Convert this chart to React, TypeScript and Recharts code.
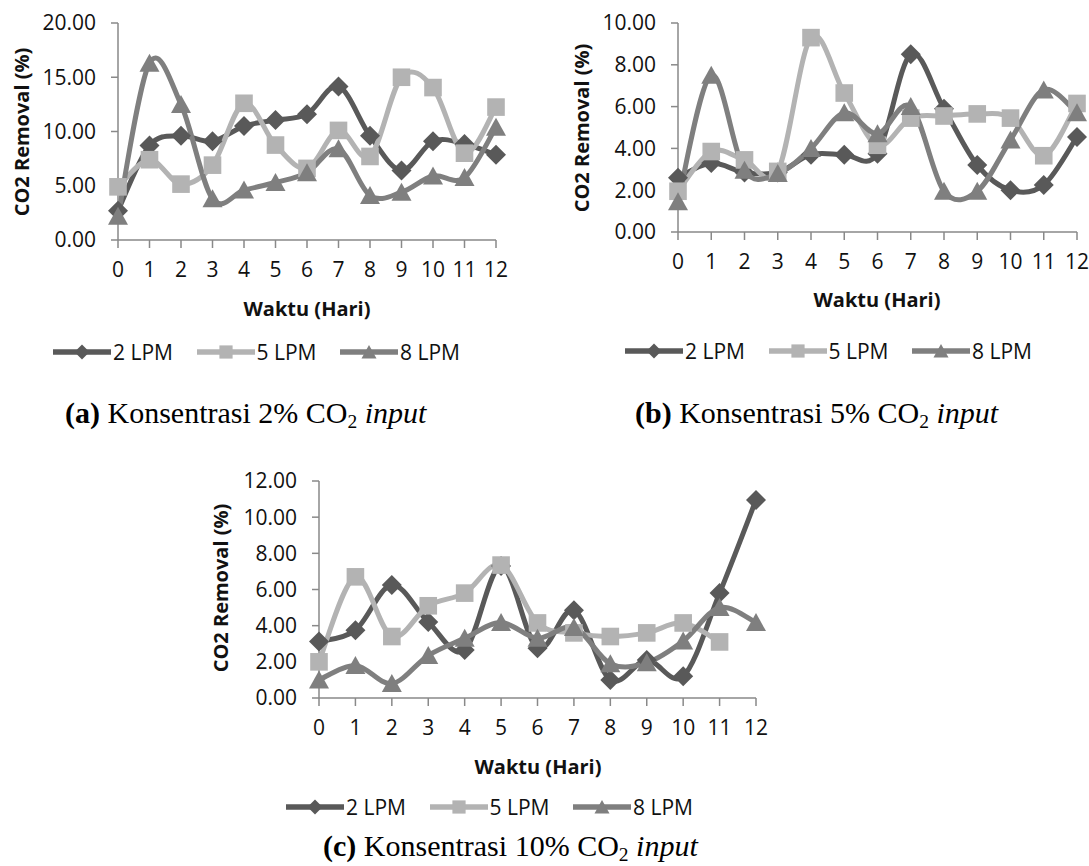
import React from 'react';
import { LineChart, Line, XAxis, YAxis } from 'recharts';

const days = ['0', '1', '2', '3', '4', '5', '6', '7', '8', '9', '10', '11', '12'];
const seriesNames = ['2 LPM', '5 LPM', '8 LPM'];

// (a) Konsentrasi 2% CO2 input
const a2Lpm = [2.7, 8.7, 9.6, 9.1, 10.5, 11.05, 11.6, 14.15, 9.6, 6.4, 9.1, 8.85, 7.85];
const a5Lpm = [4.9, 7.4, 5.15, 6.9, 12.6, 8.75, 6.6, 10.1, 7.7, 15.0, 14.05, 8.0, 12.25];
const a8Lpm = [2.2, 16.3, 12.5, 3.8, 4.6, 5.3, 6.2, 8.4, 4.1, 4.4, 5.9, 5.75, 10.4];
const aTicks = [0, 5, 10, 15, 20];

// (b) Konsentrasi 5% CO2 input
const b2Lpm = [2.6, 3.3, 2.85, 2.85, 3.7, 3.7, 3.75, 8.5, 5.9, 3.2, 2.0, 2.25, 4.55];
const b5Lpm = [1.95, 3.85, 3.45, 2.9, 9.3, 6.65, 4.15, 5.45, 5.55, 5.65, 5.45, 3.65, 6.15];
const b8Lpm = [1.45, 7.5, 2.95, 2.8, 4.0, 5.7, 4.7, 6.0, 1.95, 1.95, 4.4, 6.8, 5.7];
const bTicks = [0, 2, 4, 6, 8, 10];

// (c) Konsentrasi 10% CO2 input
const c2Lpm = [3.12, 3.75, 6.25, 4.2, 2.65, 7.3, 2.75, 4.85, 1.0, 2.1, 1.2, 5.8, 10.95];
const c5Lpm = [2.0, 6.7, 3.4, 5.1, 5.8, 7.35, 4.15, 3.6, 3.4, 3.6, 4.15, 3.1, null];
const c8Lpm = [1.0, 1.8, 0.8, 2.35, 3.3, 4.17, 3.3, 3.9, 1.9, 1.95, 3.15, 5.0, 4.17];
const cTicks = [0, 2, 4, 6, 8, 10, 12];

const colors = ['#595959', '#b3b3b3', '#7f7f7f'];
const shapes = ['diamond', 'square', 'triangle'];
const axisGray = '#898989';
const chartFont = '"Open Sans", Lato, sans-serif';

const toRows = (s2: (number | null)[], s5: (number | null)[], s8: (number | null)[]) =>
  days.map((d, i) => ({ day: d, s2: s2[i], s5: s5[i], s8: s8[i] }));

// smoothing like Excel's "smoothed line" (Catmull-Rom through the points)
const excelSmooth = (context: any) => {
  let pts: number[][] = [];
  return {
    areaStart() {},
    areaEnd() {},
    lineStart() {
      pts = [];
    },
    point(x: number, y: number) {
      pts.push([+x, +y]);
    },
    lineEnd() {
      const n = pts.length;
      if (!n) return;
      context.moveTo(pts[0][0], pts[0][1]);
      for (let i = 0; i < n - 1; i++) {
        const p0 = pts[Math.max(i - 1, 0)];
        const p1 = pts[i];
        const p2 = pts[i + 1];
        const p3 = pts[Math.min(i + 2, n - 1)];
        context.bezierCurveTo(
          p1[0] + (p2[0] - p0[0]) / 6,
          p1[1] + (p2[1] - p0[1]) / 6,
          p2[0] - (p3[0] - p1[0]) / 6,
          p2[1] - (p3[1] - p1[1]) / 6,
          p2[0],
          p2[1]
        );
      }
    },
  };
};

const Marker = ({ shape, cx, cy, size, color }: any) => {
  const r = size / 2;
  if (shape === 'diamond')
    return <polygon points={`${cx},${cy - r} ${cx + r},${cy} ${cx},${cy + r} ${cx - r},${cy}`} fill={color} />;
  if (shape === 'square')
    return <rect x={cx - r * 0.88} y={cy - r * 0.88} width={size * 0.88} height={size * 0.88} fill={color} />;
  return (
    <polygon
      points={`${cx},${cy - r * 0.95} ${cx + r},${cy + r * 0.85} ${cx - r},${cy + r * 0.85}`}
      fill={color}
    />
  );
};

type PanelProps = {
  left: number;
  top: number;
  width: number;
  height: number;
  plot: { left: number; top: number; right: number; bottom: number };
  rows: any[];
  ticks: number[];
};

const Panel = ({ left, top, width, height, plot, rows, ticks }: PanelProps) => {
  const xAxisHeight = 40;
  const margin = {
    top: plot.top - top,
    right: left + width - plot.right,
    left: 0,
    bottom: top + height - plot.bottom - xAxisHeight,
  };
  const tickStyle = { fontFamily: chartFont, fontSize: 21, fill: '#111' };
  return (
    <div style={{ position: 'absolute', left, top }}>
      <LineChart width={width} height={height} data={rows} margin={margin}>
        <XAxis
          dataKey="day"
          interval={0}
          height={xAxisHeight}
          tick={tickStyle}
          tickSize={8}
          tickMargin={14}
          axisLine={{ stroke: axisGray, strokeWidth: 1.5 }}
          tickLine={{ stroke: axisGray, strokeWidth: 1.5 }}
        />
        <YAxis
          type="number"
          width={plot.left - left}
          domain={[0, ticks[ticks.length - 1]]}
          ticks={ticks}
          interval={0}
          tickFormatter={(v: number) => v.toFixed(2)}
          tick={tickStyle}
          tickSize={7}
          tickMargin={15}
          axisLine={{ stroke: axisGray, strokeWidth: 1.5 }}
          tickLine={{ stroke: axisGray, strokeWidth: 1.5 }}
        />
        {['s2', 's5', 's8'].map((key, si) => (
          <Line
            key={key}
            dataKey={key}
            name={seriesNames[si]}
            type={excelSmooth as any}
            stroke={colors[si]}
            strokeWidth={5}
            isAnimationActive={false}
            activeDot={false}
            dot={(p: any) =>
              p.cx == null || p.cy == null || p.value == null ? (
                <g key={`${key}-${p.index}`} />
              ) : (
                <Marker key={`${key}-${p.index}`} shape={shapes[si]} cx={p.cx} cy={p.cy} size={20} color={colors[si]} />
              )
            }
          />
        ))}
      </LineChart>
    </div>
  );
};

const AxisTitles = ({ vx, vy, hx, hy }: { vx: number; vy: number; hx: number; hy: number }) => {
  const base: React.CSSProperties = {
    position: 'absolute',
    fontFamily: chartFont,
    fontWeight: 700,
    fontSize: 20,
    lineHeight: '26px',
    color: '#111',
    whiteSpace: 'nowrap',
  };
  return (
    <>
      <div style={{ ...base, left: vx, top: vy, transform: 'translate(-50%, -50%) rotate(-90deg)' }}>
        CO2 Removal (%)
      </div>
      <div style={{ ...base, left: hx, top: hy, transform: 'translate(-50%, -50%)' }}>Waktu (Hari)</div>
    </>
  );
};

const LegendRow = ({ x, y }: { x: number; y: number }) => (
  <>
    {seriesNames.map((name, i) => (
      <div
        key={name}
        style={{
          position: 'absolute',
          left: x + i * 143.5,
          top: y - 13,
          height: 26,
          display: 'flex',
          alignItems: 'center',
          whiteSpace: 'nowrap',
          fontFamily: chartFont,
          fontSize: 21,
          lineHeight: '26px',
          color: '#111',
        }}
      >
        <svg width={58} height={24} style={{ display: 'block' }}>
          <line x1={1} y1={12} x2={57} y2={12} stroke={colors[i]} strokeWidth={5.5} strokeLinecap="round" />
          <Marker shape={shapes[i]} cx={29} cy={12} size={15} color={colors[i]} />
        </svg>
        <span style={{ marginLeft: 2 }}>{name}</span>
      </div>
    ))}
  </>
);

const Caption = ({ letter, pct }: { letter: string; pct: string }) => (
  <span>
    <b>({letter})</b> Konsentrasi {pct}% CO
    <span style={{ fontSize: '0.65em', position: 'relative', top: '0.28em' }}>2</span> <i>input</i>
  </span>
);

const captionStyle: React.CSSProperties = {
  position: 'absolute',
  fontFamily: '"Liberation Serif", "Times New Roman", serif',
  fontSize: 30,
  lineHeight: '30px',
  color: '#000',
  whiteSpace: 'nowrap',
};

export default function App() {
  return (
    <div
      style={{
        position: 'absolute',
        left: 0,
        top: 0,
        width: 1089,
        height: 866,
        background: '#fff',
        overflow: 'hidden',
      }}
    >
      <Panel
        left={0}
        top={0}
        width={520}
        height={300}
        plot={{ left: 118, top: 23, right: 496, bottom: 240 }}
        rows={toRows(a2Lpm, a5Lpm, a8Lpm)}
        ticks={aTicks}
      />
      <AxisTitles vx={22} vy={132} hx={307} hy={309} />
      <LegendRow x={53} y={352} />
      <div style={{ ...captionStyle, left: 65, top: 398 }}>
        <Caption letter="a" pct="2" />
      </div>

      <Panel
        left={545}
        top={0}
        width={544}
        height={300}
        plot={{ left: 678, top: 23, right: 1077, bottom: 232 }}
        rows={toRows(b2Lpm, b5Lpm, b8Lpm)}
        ticks={bTicks}
      />
      <AxisTitles vx={582} vy={128} hx={877} hy={300} />
      <LegendRow x={625} y={351} />
      <div style={{ ...captionStyle, left: 635, top: 398 }}>
        <Caption letter="b" pct="5" />
      </div>

      <Panel
        left={190}
        top={440}
        width={600}
        height={320}
        plot={{ left: 319, top: 481, right: 756, bottom: 698 }}
        rows={toRows(c2Lpm, c5Lpm, c8Lpm)}
        ticks={cTicks}
      />
      <AxisTitles vx={221} vy={588} hx={538} hy={767} />
      <LegendRow x={286} y={807} />
      <div style={{ ...captionStyle, left: 323, top: 831 }}>
        <Caption letter="c" pct="10" />
      </div>
    </div>
  );
}
